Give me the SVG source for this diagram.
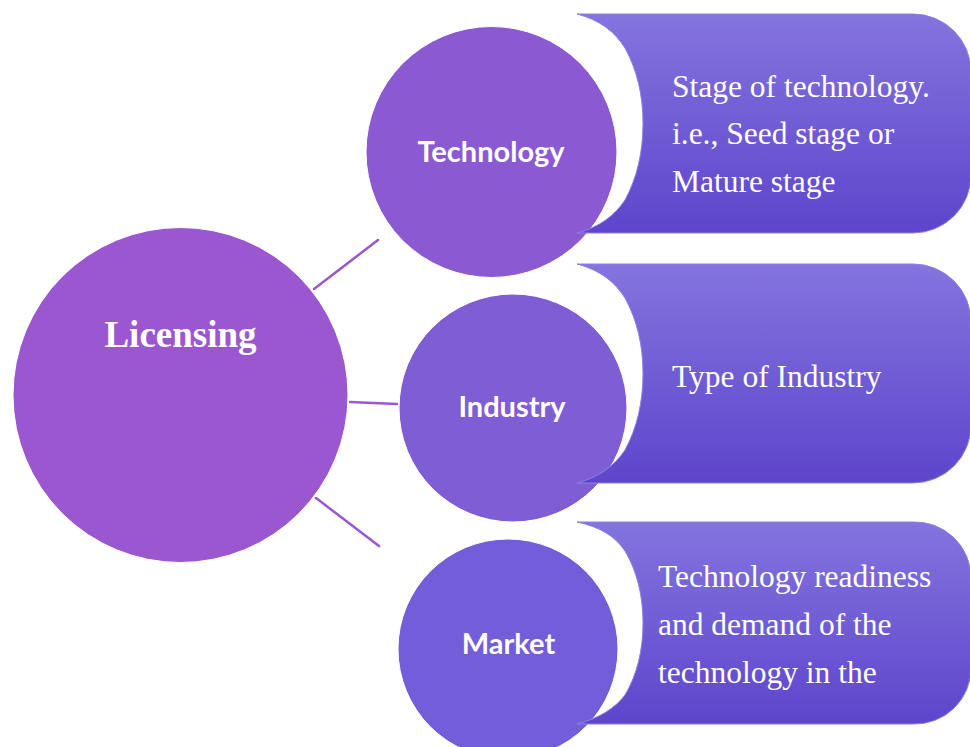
<svg xmlns="http://www.w3.org/2000/svg" width="970" height="747" viewBox="0 0 970 747">
  <defs>
    <linearGradient id="bandFill" x1="0" y1="0" x2="0" y2="1">
      <stop offset="0" stop-color="#8474DE"/>
      <stop offset="1" stop-color="#5E45CC"/>
    </linearGradient>
    <style>
      .band { fill: url(#bandFill); stroke: #8D80E2; stroke-width: 1; }
      .detail { font-family: "Liberation Serif", "Times New Roman", serif; font-size: 31.5px; fill: #FFFFFF; }
      .hub-label { font-family: "Liberation Serif", "Times New Roman", serif; font-size: 37px; font-weight: bold; fill: #FFFFFF; text-anchor: middle; }
      .topic-label { font-family: Lato, "Open Sans", sans-serif; font-size: 29px; font-weight: bold; fill: #FFFFFF; text-anchor: middle; }
      .link { stroke: #9B57D0; stroke-width: 2.5; stroke-linecap: round; fill: none; }
      .ring { stroke: #FFFFFF; stroke-width: 1; }
    </style>
  </defs>

  <rect width="970" height="747" fill="#FFFFFF"/>

  <!-- connectors from the hub to each topic -->
  <g id="connectors">
    <line class="link" x1="314" y1="289" x2="378" y2="240"/>
    <line class="link" x1="350" y1="402" x2="397" y2="404"/>
    <line class="link" x1="316" y1="498" x2="379" y2="546"/>
  </g>

  <!-- hub -->
  <g id="licensing">
    <circle class="ring" cx="180.5" cy="395" r="167.5" fill="#9B57D0"/>
    <text class="hub-label" x="180.5" y="347">Licensing</text>
  </g>

  <!-- topic circles -->
  <g id="technology">
    <circle class="ring" cx="491.5" cy="152" r="125.5" fill="#8B5AD3"/>
    <text class="topic-label" x="491" y="162">Technology</text>
  </g>
  <g id="industry">
    <circle class="ring" cx="513" cy="408" r="114" fill="#7F5DD5"/>
    <text class="topic-label" x="512" y="417">Industry</text>
  </g>
  <g id="market">
    <circle class="ring" cx="508" cy="649" r="110" fill="#735DD8"/>
    <text class="topic-label" x="508.5" y="654">Market</text>
  </g>

  <!-- detail bands (drawn over the circle edges) -->
  <g id="technology-detail">
    <path class="band" d="M577,14 H913 A58,58 0 0 1 971,72 V175 A58,58 0 0 1 913,233 H577 C600,227 615,215 625,200 C637,178 643,152 643,123.5 C643,95 637,70 625,48 C615,32 600,20 577,14 Z"/>
    <text class="detail" x="672" y="97">Stage of technology.</text>
    <text class="detail" x="672" y="144">i.e., Seed stage or</text>
    <text class="detail" x="672" y="192">Mature stage</text>
  </g>
  <g id="industry-detail">
    <path class="band" d="M577,264 H913 A58,58 0 0 1 971,322 V425 A58,58 0 0 1 913,483 H577 C600,477 615,465 625,450 C637,428 643,402 643,373.5 C643,345 637,320 625,298 C615,282 600,270 577,264 Z"/>
    <text class="detail" x="672" y="387">Type of Industry</text>
  </g>
  <g id="market-detail">
    <path class="band" d="M577,522 H913 A56,56 0 0 1 971,578 V668 A56,56 0 0 1 913,724 H577 C600,718 615,708 625,695 C637,675 643,650 643,623 C643,596 637,571 625,551 C615,536 600,527 577,522 Z"/>
    <text class="detail" x="658" y="587">Technology readiness</text>
    <text class="detail" x="658" y="635">and demand of the</text>
    <text class="detail" x="658" y="683">technology in the</text>
  </g>
</svg>
